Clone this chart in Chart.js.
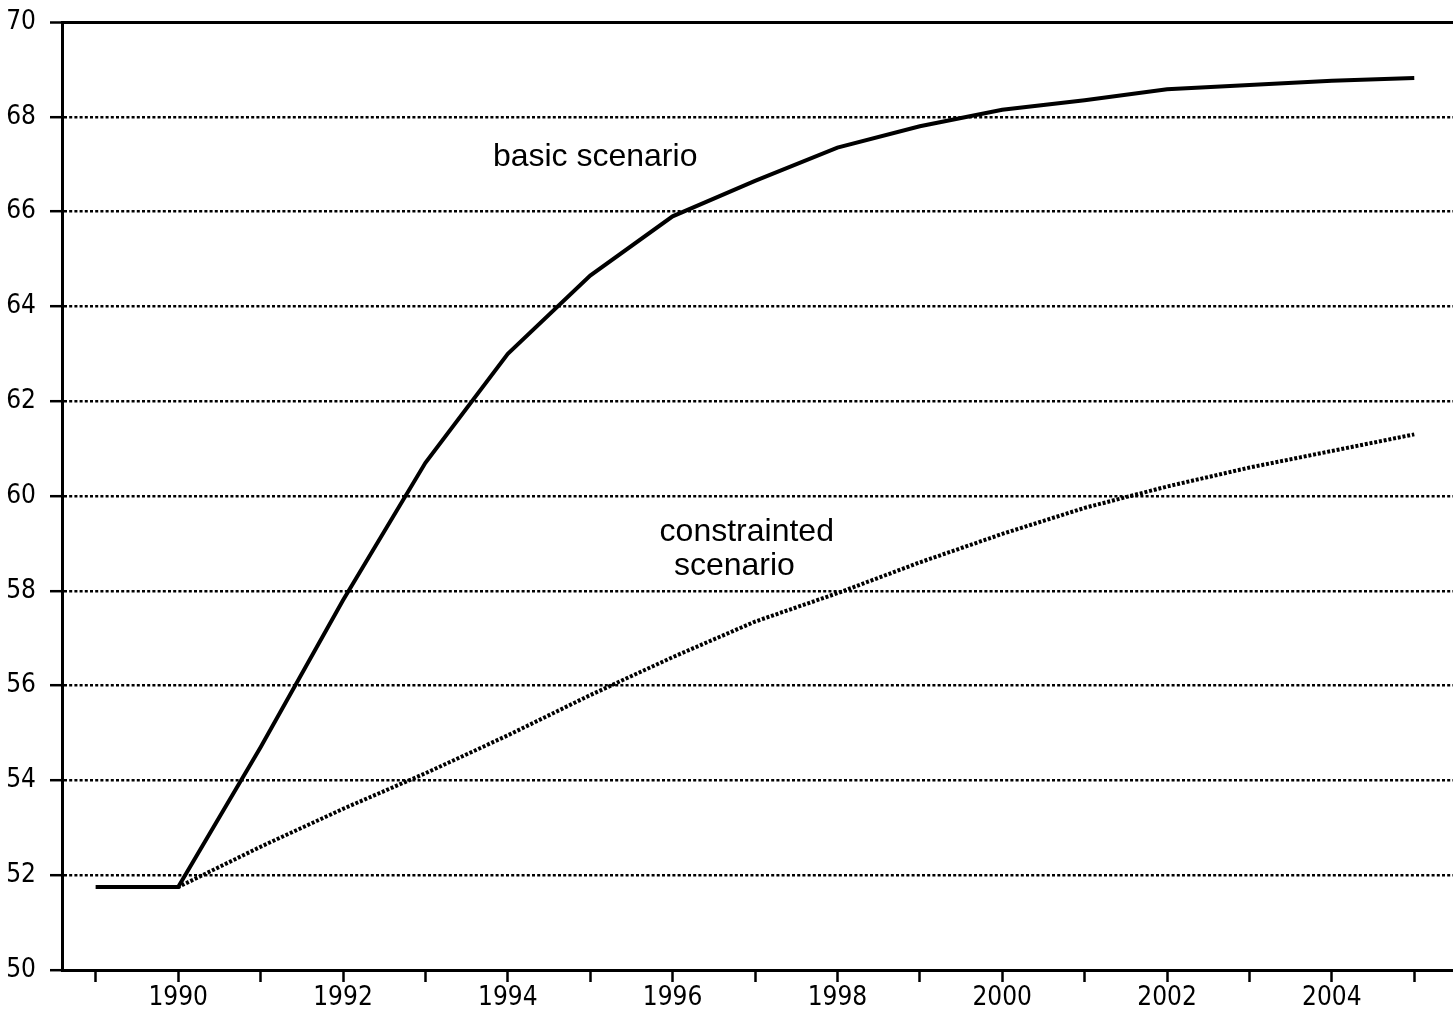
<!DOCTYPE html>
<html>
<head>
<meta charset="utf-8">
<script src="https://cdn.jsdelivr.net/npm/chart.js@4.4.1/dist/chart.umd.min.js"></script>
<style>
    html, body { margin: 0; padding: 0; background: #fff; }
    #wrap { width: 1453px; height: 1014px; }
</style>
</head>
<body>
<div id="wrap"><canvas id="myChart"></canvas></div>
<script>
var years = [1989, 1990, 1991, 1992, 1993, 1994, 1995, 1996, 1997, 1998, 1999, 2000, 2001, 2002, 2003, 2004, 2005];
var basicScenario = [51.75, 51.75, 54.7, 57.8, 60.7, 63.0, 64.65, 65.9, 66.65, 67.35, 67.8, 68.15, 68.35, 68.58, 68.67, 68.76, 68.82];
var constrainedScenario = [51.75, 51.75, 52.6, 53.4, 54.15, 54.95, 55.8, 56.6, 57.35, 57.95, 58.6, 59.2, 59.75, 60.2, 60.6, 60.95, 61.3];
var xTickLabels = [1990, 1992, 1994, 1996, 1998, 2000, 2002, 2004];
var yTickLabels = [50, 52, 54, 56, 58, 60, 62, 64, 66, 68, 70];

var tickFont = { family: "'DejaVu Sans Condensed', 'Liberation Sans Narrow', sans-serif", size: 26 };

function toPoints(values) {
    return years.map(function (y, i) { return { x: y, y: values[i] }; });
}

// text labels placed on the curves, in data units
var curveLabels = [
    { text: 'basic scenario', x: 1995.06, y: 67.15 },
    { text: 'constrainted', x: 1996.9, y: 59.24 },
    { text: 'scenario', x: 1996.75, y: 58.52 }
];

var labelPlugin = {
    id: 'curveLabels',
    afterDatasetsDraw: function (chart) {
        var ctx = chart.ctx;
        var xs = chart.scales.x, ys = chart.scales.y;
        ctx.save();
        ctx.fillStyle = '#000';
        ctx.font = "32px 'Liberation Sans', Arial, sans-serif";
        ctx.textAlign = 'center';
        ctx.textBaseline = 'middle';
        curveLabels.forEach(function (l) {
            ctx.fillText(l.text, xs.getPixelForValue(l.x), ys.getPixelForValue(l.y));
        });
        ctx.restore();
    }
};

var ctx = document.getElementById('myChart').getContext('2d');
var chart = new Chart(ctx, {
    type: 'line',
    data: {
        datasets: [{
            label: 'basic scenario',
            data: toPoints(basicScenario),
            borderColor: '#000',
            borderWidth: 4,
            pointRadius: 0,
            tension: 0,
            fill: false
        }, {
            label: 'constrainted scenario',
            data: toPoints(constrainedScenario),
            borderColor: '#000',
            borderWidth: 4,
            borderDash: [3, 1.8],
            pointRadius: 0,
            tension: 0,
            fill: false
        }]
    },
    options: {
        responsive: true,
        maintainAspectRatio: false,
        animation: false,
        layout: { padding: { top: 22, left: 0, right: 0, bottom: 0 } },
        plugins: {
            legend: { display: false },
            tooltip: { enabled: false }
        },
        scales: {
            x: {
                type: 'linear',
                min: 1988.59,
                max: 2005.47,
                afterBuildTicks: function (scale) {
                    scale.ticks = years.map(function (y) { return { value: y }; });
                },
                afterFit: function (scale) {
                    scale.height = 44;
                    scale.paddingLeft = 0;
                    scale.paddingRight = 0;
                },
                ticks: {
                    autoSkip: false,
                    maxRotation: 0,
                    padding: 1,
                    color: '#000',
                    font: tickFont,
                    callback: function (v) {
                        return xTickLabels.indexOf(v) >= 0 ? String(v) : '';
                    }
                },
                grid: {
                    drawOnChartArea: false,
                    drawTicks: true,
                    tickLength: 12,
                    tickWidth: 2.5,
                    tickColor: '#000'
                },
                border: { display: true, color: '#000', width: 3 }
            },
            y: {
                min: 50,
                max: 70,
                afterBuildTicks: function (scale) {
                    scale.ticks = yTickLabels.map(function (v) { return { value: v }; });
                },
                afterFit: function (scale) {
                    scale.width = 62;
                    scale.paddingTop = 0;
                    scale.paddingBottom = 0;
                },
                ticks: {
                    padding: 14,
                    color: '#000',
                    font: tickFont
                },
                grid: {
                    color: '#000',
                    lineWidth: function (c) { return c.tick && c.tick.value === 70 ? 3 : 2.4; },
                    tickLength: 12,
                    tickWidth: 2.5,
                    tickColor: '#000'
                },
                border: {
                    display: true,
                    color: '#000',
                    width: 3,
                    dash: function (c) { return c.tick && c.tick.value === 70 ? [] : [3, 2.2]; }
                }
            }
        }
    },
    plugins: [labelPlugin]
});
</script>
</body>
</html>
